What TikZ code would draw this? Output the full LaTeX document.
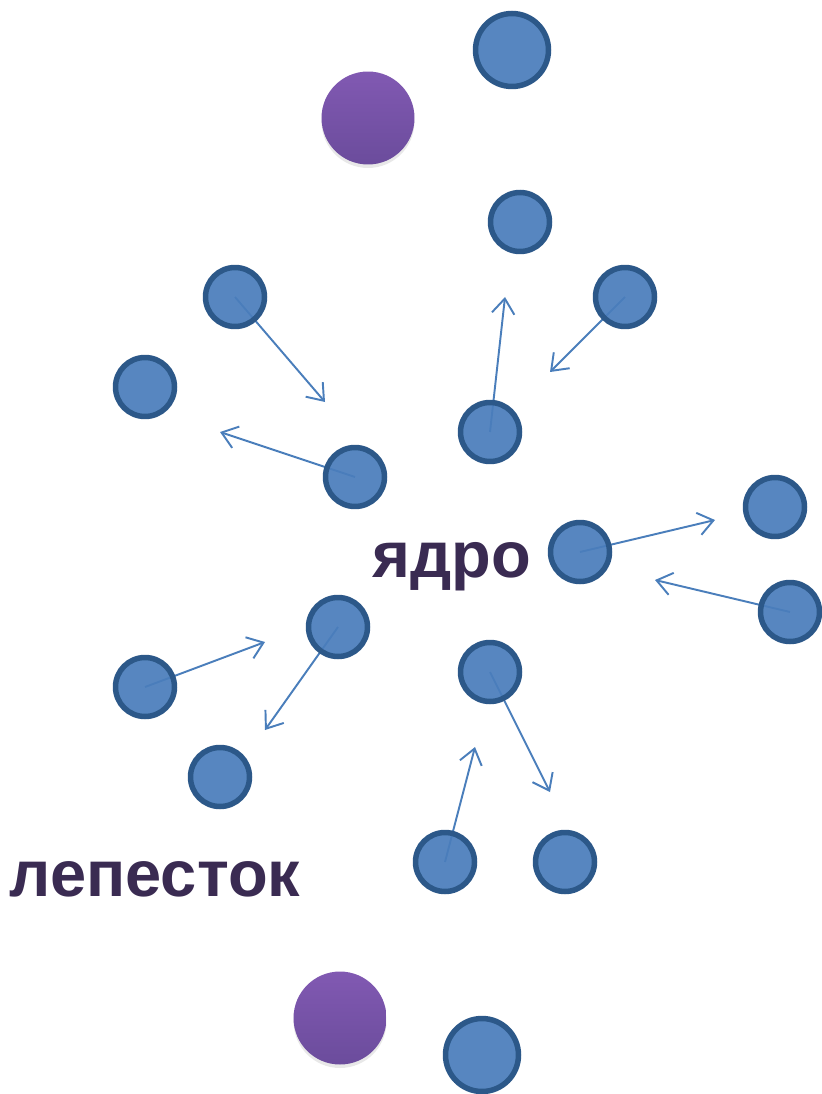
\documentclass[tikz,border=0pt]{standalone}
\usepackage{fontspec}
\setmainfont{Liberation Sans}
\usepackage{tikz}
\usetikzlibrary{arrows.meta,backgrounds,shadows}
\definecolor{ballfill}{HTML}{4A7DBB}
\definecolor{ballline}{HTML}{2C5889}
\definecolor{arrowcol}{HTML}{4A7EBB}
\definecolor{violtop}{HTML}{8159B2}
\definecolor{violbot}{HTML}{6B4C9C}
\definecolor{labcol}{HTML}{3A2B52}
\tikzset{ball/.style={draw=ballline,line width=0.11cm,fill=ballfill,fill opacity=0.93,draw opacity=1,circle,minimum size=1.18cm,inner sep=0pt},
bigball/.style={ball,minimum size=1.46cm},
violball/.style={circle,minimum size=1.86cm,inner sep=0pt,top color=violtop,bottom color=violbot,drop shadow={opacity=0.18,shadow xshift=0cm,shadow yshift=-0.07cm}},
myarrow/.style={draw=arrowcol,line width=1.1pt,-{Straight Barb[length=0.3cm,width=0.45cm]}},
mylabel/.style={text=labcol,font=\bfseries\fontsize{37}{40}\selectfont,inner sep=0pt}}

\begin{document}
\begin{tikzpicture}[x=0.02cm,y=-0.02cm]
\useasboundingbox (0,0) rectangle (821,1094);
\node[bigball] (top) at (512,50){};
\node[violball] (violtop) at (368,118){};
\node[ball] (b3) at (520,222){};
\node[ball] (b4) at (235,297){};
\node[ball] (b5) at (625,297){};
\node[ball] (b6) at (145,387){};
\node[ball] (b7) at (490,432){};
\node[ball] (b8) at (355,477){};
\node[ball] (b9) at (775,507){};
\node[ball] (b10) at (580,552){};
\node[ball] (b11) at (790,612){};
\node[ball] (b12) at (338,627){};
\node[ball] (b13) at (145,687){};
\node[ball] (b14) at (490,672){};
\node[ball] (b15) at (220,777){};
\node[ball] (b16) at (445,862){};
\node[ball] (b17) at (565,862){};
\node[violball] (violbot) at (340,1018){};
\node[bigball] (bottom) at (482,1055){};
\node[mylabel] (core) at (452,567){ядро};
\node[mylabel] (petal) at (155,879){лепесток};
% arrow ends
\coordinate (t4) at (325,402);
\coordinate (t5) at (550,372);
\coordinate (t7) at (505,297);
\coordinate (t8) at (220,432);
\coordinate (t10) at (715,520);
\coordinate (t11) at (655,580);
\coordinate (t13) at (265,642);
\coordinate (t12) at (265,730);
\coordinate (t14) at (550,792);
\coordinate (t16) at (475,747);
\begin{scope}[on background layer]
\draw[myarrow] (b4.center) -- (t4);
\draw[myarrow] (b5.center) -- (t5);
\draw[myarrow] (b7.center) -- (t7);
\draw[myarrow] (b8.center) -- (t8);
\draw[myarrow] (b10.center) -- (t10);
\draw[myarrow] (b11.center) -- (t11);
\draw[myarrow] (b13.center) -- (t13);
\draw[myarrow] (b12.center) -- (t12);
\draw[myarrow] (b14.center) -- (t14);
\draw[myarrow] (b16.center) -- (t16);
\end{scope}
\end{tikzpicture}
\end{document}
